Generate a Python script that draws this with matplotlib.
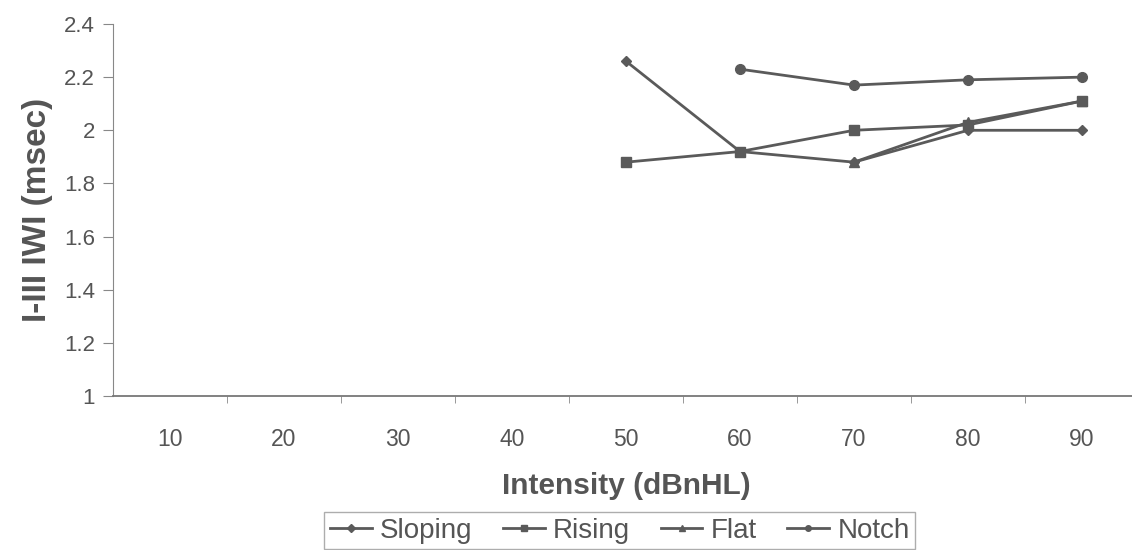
"""Recreate the I-III IWI vs intensity line chart (scanned grayscale style)."""
import matplotlib
matplotlib.use('Agg')
import matplotlib.pyplot as plt
import numpy as np

GRAY = '#5a5a5a'
TEXT = '#555555'
plt.rcParams['font.family'] = ['Liberation Sans', 'DejaVu Sans']

# data
intensity = [10, 20, 30, 40, 50, 60, 70, 80, 90]
sloping = [np.nan, np.nan, np.nan, np.nan, 2.26, 1.92, 1.88, 2.00, 2.00]
rising = [np.nan, np.nan, np.nan, np.nan, 1.88, 1.92, 2.00, 2.02, 2.11]
flat = [np.nan, np.nan, np.nan, np.nan, np.nan, np.nan, 1.88, 2.03, 2.11]
notch = [np.nan, np.nan, np.nan, np.nan, np.nan, 2.23, 2.17, 2.19, 2.20]
y_ticks = [1, 1.2, 1.4, 1.6, 1.8, 2, 2.2, 2.4]
y_ticklabels = ['1', '1.2', '1.4', '1.6', '1.8', '2', '2.2', '2.4']

fig = plt.figure(figsize=(11.32, 5.5), dpi=100, facecolor='white')
ax = fig.add_axes([113 / 1132, 1 - 396 / 550, 1026 / 1132, (396 - 24) / 550])

series = [
    ("Sloping", sloping, 'D', 5),
    ("Rising", rising, 's', 7),
    ("Flat", flat, '^', 7),
    ("Notch", notch, 'o', 7),
]
for name, vals, mk, ms in series:
    ax.plot(intensity, vals, color=GRAY, lw=2, marker=mk, markersize=ms,
            markerfacecolor=GRAY, markeredgecolor=GRAY, label=name)

ax.set_xlim(5, 95)
ax.set_ylim(1, 2.4)
ax.set_yticks(y_ticks)
ax.set_yticklabels(y_ticklabels, fontsize=16, color=TEXT)
ax.set_xticks(intensity)
ax.set_xticklabels([str(v) for v in intensity], fontsize=16.5, color=TEXT)
ax.tick_params(axis='x', length=0, pad=23)
ax.set_xticks(np.arange(15, 95, 10), minor=True)
ax.tick_params(axis='x', which='minor', length=5, color='#888888', direction='out')
ax.tick_params(axis='y', length=7, color='#888888', pad=6)

ax.spines['top'].set_visible(False)
ax.spines['right'].set_visible(False)
ax.spines['left'].set_color('#888888')
ax.spines['bottom'].set_color('#777777')
ax.spines['bottom'].set_linewidth(1.3)

ax.set_xlabel("Intensity (dBnHL)", fontsize=21.5, fontweight='bold', color=TEXT,
              labelpad=15)
ax.set_ylabel("I-III IWI (msec)", fontsize=24, fontweight='bold', color=TEXT,
              labelpad=8)

leg = ax.legend(loc='upper center', bbox_to_anchor=(0.494, -0.275), ncol=4,
                fontsize=20, frameon=True, fancybox=False, handlelength=1.5,
                handletextpad=0.3, columnspacing=1.1, borderpad=0.2,
                labelcolor=TEXT)
leg.get_frame().set_edgecolor('#999999')
leg.get_frame().set_linewidth(1.0)
for h in leg.legend_handles:
    h.set_markersize(4)

fig.savefig("out.png", dpi=100, facecolor='white')
